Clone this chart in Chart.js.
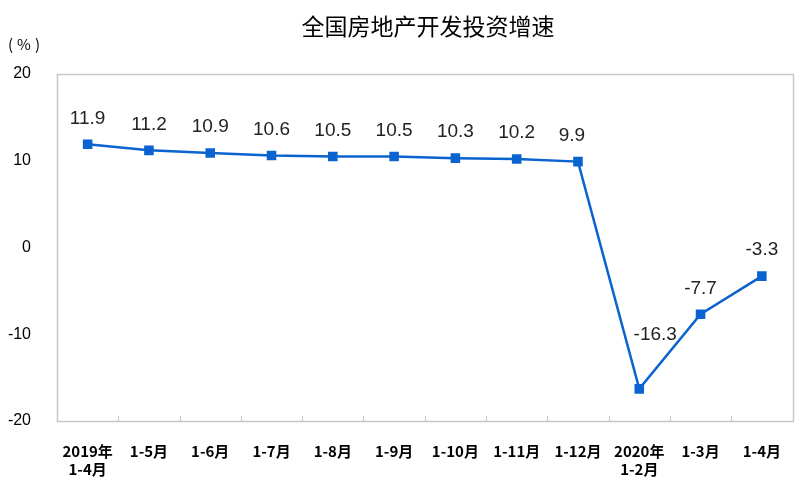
<!DOCTYPE html>
<html><head><meta charset="utf-8">
<script src="https://cdn.jsdelivr.net/npm/chart.js@4"></script>
<style>html,body{margin:0;padding:0;background:#fff}#wrap{width:800px;height:489px;position:relative}</style>
</head><body><div id="wrap"><canvas id="c" width="800" height="489"></canvas></div>
<script>
const categories = [["2019年","1-4月"],"1-5月","1-6月","1-7月","1-8月","1-9月","1-10月","1-11月","1-12月",["2020年","1-2月"],"1-3月","1-4月"];
const growth = [11.9,11.2,10.9,10.6,10.5,10.5,10.3,10.2,9.9,-16.3,-7.7,-3.3];
const yTicks = [-20,-10,0,10,20];
const titleText = "全国房地产开发投资增速";
const unitText = "(%)";

const deco = {
  id:'deco',
  afterDraw(chart){
    const ctx = chart.ctx, a = chart.chartArea;
    ctx.save();
    ctx.strokeStyle = '#c8c8c8'; ctx.lineWidth = 1.5;
    ctx.strokeRect(Math.round(a.left)+0.5, Math.round(a.top)+0.5, Math.round(a.right-a.left), Math.round(a.bottom-a.top));
    const n = categories.length, w = (a.right-a.left)/n;
    ctx.lineWidth = 1;
    ctx.beginPath();
    for(let i=1;i<n;i++){const x=Math.round(a.left+i*w)+0.5; ctx.moveTo(x,a.bottom); ctx.lineTo(x,a.bottom-5);}
    ctx.stroke();
    ctx.fillStyle='#000'; ctx.textAlign='center'; ctx.textBaseline='middle';
    ctx.font='23px "Noto Sans CJK SC"';
    ctx.fillText(titleText, 428, 26);
    ctx.font='15px "Noto Sans CJK SC"'; ctx.textAlign='left';
    ctx.letterSpacing='4px';
    ctx.fillText(unitText, 8, 44);
    ctx.letterSpacing='0px';
    ctx.font='19px "Liberation Sans", Arial'; ctx.fillStyle='#222'; ctx.textAlign='center'; ctx.textBaseline='middle';
    const meta = chart.getDatasetMeta(0);
    meta.data.forEach((p,i)=>{
      let dx=0, dy=-26;
      if(i===9){dx=16; dy=-54;}
      if(i===8){dx=-6;}
      ctx.fillText(growth[i].toFixed(1), p.x+dx, p.y+dy);
    });
    ctx.restore();
  }
};

new Chart(document.getElementById('c'),{
  type:'line',
  data:{labels:categories,datasets:[{data:growth,borderColor:'#0b63d0',backgroundColor:'#0b63d0',borderWidth:2.5,pointStyle:'rect',pointRadius:5,pointHoverRadius:5,tension:0}]},
  options:{
    responsive:false,animation:false,
    layout:{padding:{top:74,right:5,bottom:0,left:0}},
    plugins:{legend:{display:false},tooltip:{enabled:false}},
    scales:{
      x:{offset:true,grid:{display:false},border:{display:false},
        ticks:{color:'#000',font:{family:'"Noto Sans CJK SC"',size:15,weight:'bold',lineHeight:1.2},maxRotation:0,autoSkip:false,padding:13},
        afterFit(s){s.height=68;}},
      y:{min:-20,max:20,grid:{display:false},border:{display:false},
        afterBuildTicks(s){s.ticks=yTicks.map(v=>({value:v}));},
        ticks:{color:'#000',font:{family:'"Liberation Sans", Arial',size:16},padding:18},
        afterFit(s){s.width=57;}}
    }
  },
  plugins:[deco]
});
</script></body></html>
